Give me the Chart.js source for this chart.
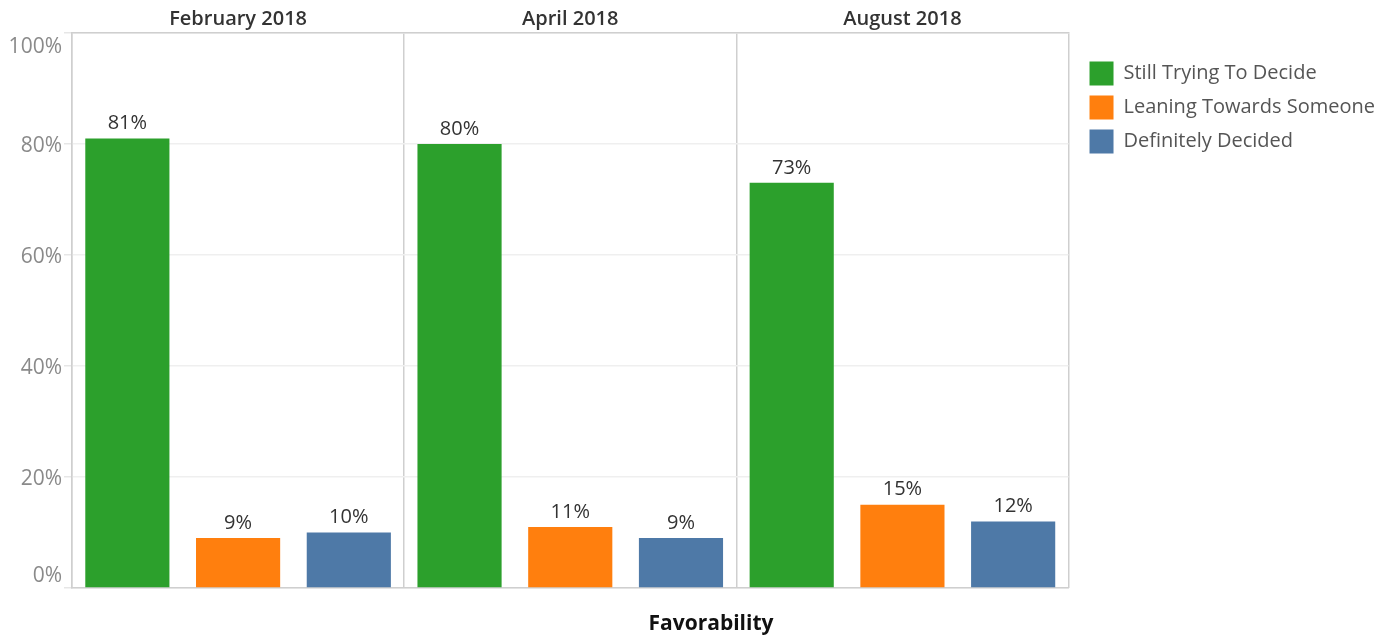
<!DOCTYPE html>
<html>
<head>
<meta charset="utf-8">
<script src="https://cdn.jsdelivr.net/npm/chart.js@4/dist/chart.umd.min.js"></script>
<style>
html,body{margin:0;padding:0;background:#fff;}
#wrap{width:1390px;height:637px;}
</style>
</head>
<body>
<div id="wrap"><canvas id="c" width="1390" height="637"></canvas></div>
<script>
const periods = ['February 2018', 'April 2018', 'August 2018'];
const seriesNames = ['Still Trying To Decide', 'Leaning Towards Someone', 'Definitely Decided'];
const stillTrying = [81, 80, 73];
const leaning = [9, 11, 15];
const decided = [10, 9, 12];
const yTicks = [0, 20, 40, 60, 80, 100];
const axisTitle = 'Favorability';
const colors = ['#2ca02c', '#ff7f0e', '#4e79a7'];
const FONT = "'Open Sans', 'Noto Sans', sans-serif";

const valueLabels = {
  id: 'valueLabels',
  afterDatasetsDraw(chart) {
    const ctx = chart.ctx;
    ctx.save();
    ctx.font = "20px " + FONT;
    ctx.fillStyle = '#333';
    ctx.textAlign = 'center';
    ctx.textBaseline = 'bottom';
    chart.data.datasets.forEach((ds, i) => {
      const meta = chart.getDatasetMeta(i);
      meta.data.forEach((bar, j) => {
        ctx.fillText(ds.data[j] + '%', bar.x, bar.y - 5);
      });
    });
    ctx.restore();
  }
};

// Tableau-style y labels (end labels nudged inside the plot) and the bottom title
const axisText = {
  id: 'axisText',
  afterDraw(chart) {
    const y = chart.scales.y;
    const ctx = chart.ctx;
    ctx.save();
    ctx.font = "21px " + FONT;
    ctx.fillStyle = '#8a8a8a';
    ctx.textAlign = 'right';
    ctx.textBaseline = 'middle';
    yTicks.forEach(v => {
      let py = y.getPixelForValue(v) + 2;
      if (v === yTicks[yTicks.length - 1]) py += 12;
      else if (v === yTicks[0]) py -= 14;
      ctx.fillText(v + '%', y.right - 10, py);
    });
    ctx.font = "bold 21px " + FONT;
    ctx.fillStyle = '#111';
    ctx.textAlign = 'center';
    ctx.fillText(axisTitle, chart.width * 0.5115, chart.height - 13);
    ctx.restore();
  }
};

new Chart(document.getElementById('c'), {
  type: 'bar',
  data: {
    labels: periods,
    datasets: [
      { label: seriesNames[0], data: stillTrying, backgroundColor: colors[0], xAxisID: 'x' },
      { label: seriesNames[1], data: leaning, backgroundColor: colors[1], xAxisID: 'x' },
      { label: seriesNames[2], data: decided, backgroundColor: colors[2], xAxisID: 'x' }
    ]
  },
  options: {
    responsive: false,
    animation: false,
    devicePixelRatio: 1,
    layout: { padding: { left: 0, right: 5, top: 0, bottom: 0 } },
    datasets: { bar: { categoryPercentage: 1.0, barPercentage: 0.76 } },
    plugins: {
      legend: {
        position: 'right',
        align: 'start',
        maxWidth: 340,
        labels: {
          boxWidth: 24, boxHeight: 24, padding: 10,
          color: '#555',
          font: { family: FONT, size: 20 }
        },
        title: { display: true, text: '', padding: { top: 18, bottom: 19 } }
      },
      tooltip: { enabled: false }
    },
    scales: {
      x: {
        type: 'category',
        position: 'top',
        offset: true,
        afterFit(axis) { axis.height = 33; },
        grid: { display: true, offset: true, color: '#cfcfcf', lineWidth: 1.5, drawTicks: false },
        border: { display: true, color: '#cfcfcf', width: 1.5 },
        ticks: { color: '#333', font: { family: FONT, size: 20, weight: '600' }, padding: 2 }
      },
      x2: {
        type: 'category',
        position: 'bottom',
        labels: periods,
        afterFit(axis) { axis.height = 49; },
        grid: { display: false },
        border: { display: true, color: '#cfcfcf', width: 1.5 },
        ticks: { display: false }
      },
      y: {
        min: 0, max: 100,
        afterBuildTicks(axis) { axis.ticks = yTicks.map(v => ({ value: v })); },
        afterFit(axis) { axis.width = 72; },
        grid: { color: '#efefef', tickColor: '#e6e6e6', tickLength: 8, lineWidth: 1.5 },
        border: { display: true, color: '#cfcfcf', width: 1.5 },
        ticks: { color: 'rgba(0,0,0,0)', padding: 2, font: { family: FONT, size: 19 }, callback: v => v + '%' }
      },
      yGap: {
        type: 'linear',
        position: 'right',
        display: true,
        afterFit(axis) { axis.width = 11; },
        grid: { display: false },
        border: { display: false },
        ticks: { display: false }
      }
    }
  },
  plugins: [valueLabels, axisText]
});
</script>
</body>
</html>
